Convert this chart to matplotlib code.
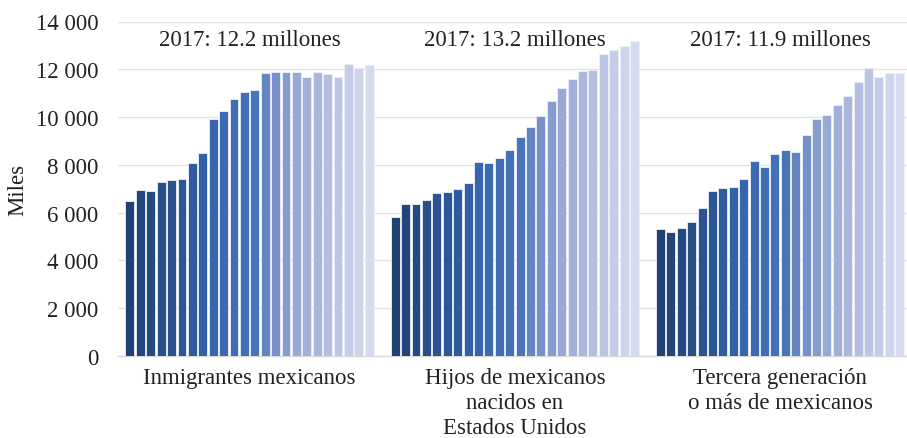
import matplotlib
matplotlib.use("Agg")
import matplotlib.pyplot as plt
import numpy as np
from matplotlib.colors import LinearSegmentedColormap

groups = ["Inmigrantes mexicanos",
          "Hijos de mexicanos\nnacidos en\nEstados Unidos",
          "Tercera generación\no más de mexicanos"]
annotations = ["2017: 12.2 millones", "2017: 13.2 millones", "2017: 11.9 millones"]
years = list(range(1994, 2018))

inmigrantes = [6490, 6960, 6890, 7290, 7380, 7420, 8090, 8510, 9920, 10270,
               10750, 11060, 11140, 11830, 11870, 11900, 11900, 11660, 11900,
               11800, 11690, 12220, 12040, 12200]
hijos = [5830, 6370, 6370, 6520, 6840, 6870, 7000, 7260, 8110, 8070,
         8280, 8610, 9170, 9590, 10050, 10690, 11220, 11580, 11930, 11990,
         12630, 12820, 12990, 13180]
tercera = [5330, 5200, 5370, 5610, 6210, 6920, 7020, 7090, 7420, 8150,
           7920, 8440, 8620, 8550, 9250, 9930, 10080, 10490, 10890, 11480,
           12060, 11670, 11840, 11850]
series = [inmigrantes, hijos, tercera]

yticks = [0, 2000, 4000, 6000, 8000, 10000, 12000, 14000]
ytick_labels = ["0", "2 000", "4 000", "6 000", "8 000", "10 000", "12 000", "14 000"]

# colour ramp (style)
anchors = [(0.0, "#1f4272"), (6/23, "#2f5c9f"), (8/23, "#3766b0"),
           (12/23, "#4675b9"), (13/23, "#6584c2"), (16/23, "#98a9d6"),
           (20/23, "#bcc5e4"), (1.0, "#d5dbee")]
cmap = LinearSegmentedColormap.from_list("ramp", anchors)
n = len(years)
colors = [cmap(i / (n - 1)) for i in range(n)]

plt.rcParams['font.family'] = ['Liberation Serif', 'DejaVu Serif']
FS = 16.5
TXT = "#222222"

fig = plt.figure(figsize=(9.07, 4.39), dpi=100)
ax = fig.add_axes([118/907, 1 - 357/439, (907-118)/907, (357-22.5)/439])

spacing = 25.5
centers = []
for g, vals in enumerate(series):
    x = g * spacing + np.arange(n)
    ax.bar(x, vals, width=0.86, color=colors, edgecolor="#eef0f8", linewidth=0.6, zorder=3)
    centers.append(x.mean())
    ax.text(x.mean(), 13260, annotations[g], ha="center", va="center",
            fontsize=FS, color=TXT, zorder=4)

ax.set_xlim(-1.15, 2 * spacing + n - 1 + 0.7)
ax.set_ylim(0, 14000)
ax.set_yticks(yticks)
ax.set_yticklabels(ytick_labels)
ax.set_xticks(centers)
ax.set_xticklabels(groups, linespacing=1.25, va="top")
ax.tick_params(axis="y", length=0, pad=14, labelsize=FS, labelcolor=TXT)
ax.tick_params(axis="x", length=0, pad=8, labelsize=FS, labelcolor=TXT)
ax.grid(axis="y", color="#e3e3e3", linewidth=1.0, zorder=0)
for s in ["top", "right", "left"]:
    ax.spines[s].set_visible(False)
ax.spines["bottom"].set_color("#d9d9d9")
ax.spines["bottom"].set_linewidth(1.0)
fig.text(18/907, 1 - 190/439, "Miles", rotation=90, ha="center", va="center",
         fontsize=FS, color=TXT)

fig.savefig("out.png", dpi=100)
